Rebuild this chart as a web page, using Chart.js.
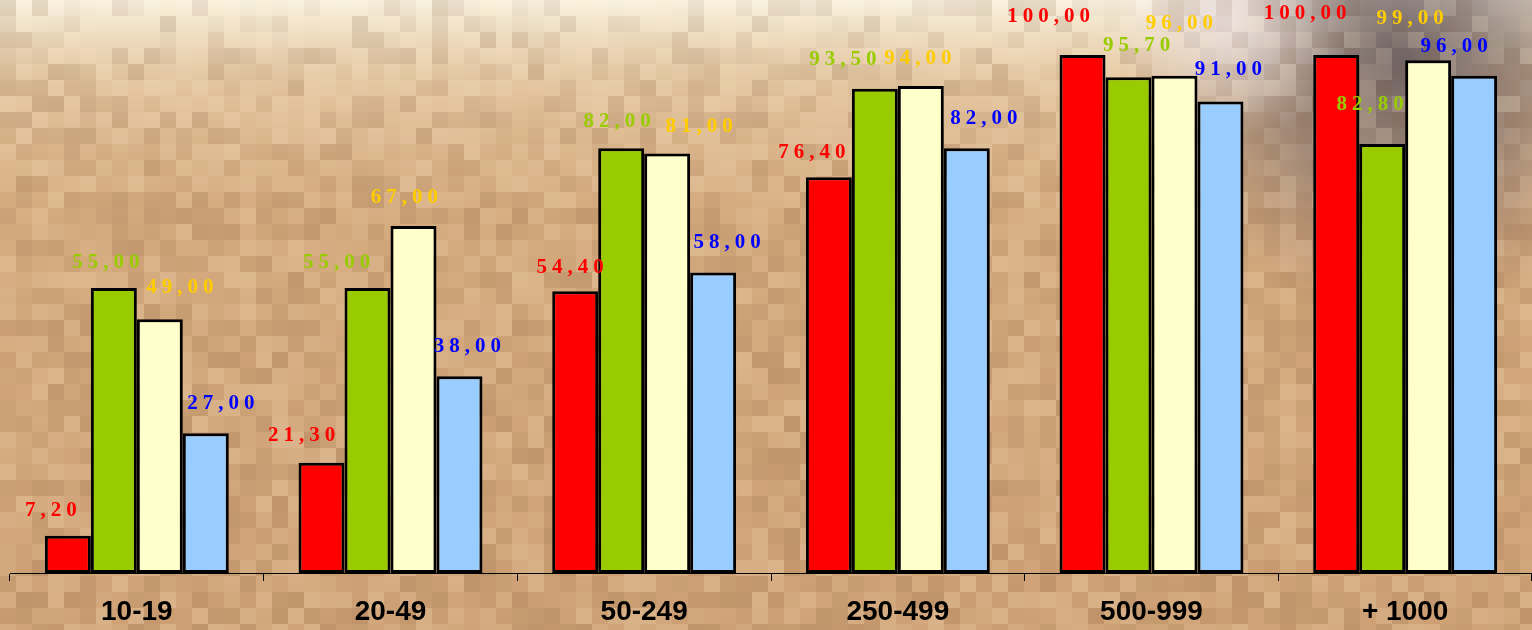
<!DOCTYPE html>
<html>
<head>
<meta charset="utf-8">
<script src="https://cdn.jsdelivr.net/npm/chart.js@4/dist/chart.umd.min.js"></script>
<style>
  html, body { margin: 0; padding: 0; background: #d2a57a; }
  #wrap { width: 1532px; height: 630px; position: relative; }
</style>
</head>
<body>
<div id="wrap"><canvas id="c" width="1532" height="630"></canvas></div>
<script>
// Enterprise size classes and the four series
const categories = ['10-19', '20-49', '50-249', '250-499', '500-999', '+ 1000'];
const seriesRed    = [7.2, 21.3, 54.4, 76.4, 100, 100];
const seriesGreen  = [55, 55, 82, 93.5, 95.7, 82.8];
const seriesYellow = [49, 67, 81, 94, 96, 99];
const seriesBlue   = [27, 38, 58, 82, 91, 96];

// Hand placement of each value label relative to the top centre of its bar [dx, dy]
const labelNudge = [
  [[-17, -25], [-20, -27], [-5, -24], [-17, -25], [-34, -38], [-31, -41]],
  [[-8, -26], [-31, -26], [-4, -27], [-32, -29], [8, -32], [-12, -40]],
  [[20, -32], [-9, -28], [32, -27], [-3, -28], [5, -52], [-18, -42]],
  [[15, -30], [8, -30], [14, -30], [17, -30], [8, -32], [-20, -29]]
];
const labelColors = ['#ff0000', '#99cc00', '#ffcc00', '#0000ff'];

// Sandy mosaic backdrop: smooth colour field sampled in square tiles
function tileShade(cx, cy) {
  const h = Math.sin(cx * 12.9898 + cy * 78.233) * 43758.5453;
  return (h - Math.floor(h)) - 0.5;
}
const backdrop = {
  id: 'backdrop',
  beforeDraw(chart) {
    const { ctx, width, height } = chart;
    ctx.save();
    ctx.fillStyle = '#d1a578';
    ctx.fillRect(0, 0, width, height);
    let g = ctx.createLinearGradient(0, 0, 0, height);
    g.addColorStop(0, 'rgba(252,248,232,0.95)');
    g.addColorStop(0.12, 'rgba(240,222,190,0.6)');
    g.addColorStop(0.35, 'rgba(225,190,150,0.15)');
    g.addColorStop(1, 'rgba(200,150,110,0.2)');
    ctx.fillStyle = g;
    ctx.fillRect(0, 0, width, height);
    let r = ctx.createRadialGradient(1400, 60, 10, 1400, 60, 260);
    r.addColorStop(0, 'rgba(95,85,90,0.85)');
    r.addColorStop(0.5, 'rgba(120,105,105,0.55)');
    r.addColorStop(1, 'rgba(150,120,110,0)');
    ctx.fillStyle = r;
    ctx.fillRect(0, 0, width, height);
    let w = ctx.createRadialGradient(1230, 20, 5, 1230, 20, 120);
    w.addColorStop(0, 'rgba(245,235,235,0.8)');
    w.addColorStop(1, 'rgba(245,235,235,0)');
    ctx.fillStyle = w;
    ctx.fillRect(0, 0, width, height);
    // tile texture
    const s = 16;
    for (let ty = 0; ty * s < height; ty++) {
      for (let tx = 0; tx * s < width; tx++) {
        const d = tileShade(tx, ty);
        ctx.fillStyle = d > 0 ? 'rgba(255,235,205,' + (d * 0.45).toFixed(3) + ')'
                              : 'rgba(120,80,50,' + (-d * 0.35).toFixed(3) + ')';
        ctx.fillRect(tx * s, ty * s, s, s);
      }
    }
    ctx.restore();
  }
};

const valueLabels = {
  id: 'valueLabels',
  afterDatasetsDraw(chart) {
    const ctx = chart.ctx;
    ctx.save();
    ctx.font = 'bold 21px "Liberation Serif", "DejaVu Serif", serif';
    ctx.letterSpacing = '5px';
    ctx.textAlign = 'center';
    ctx.textBaseline = 'middle';
    chart.data.datasets.forEach((ds, di) => {
      const meta = chart.getDatasetMeta(di);
      meta.data.forEach((bar, i) => {
        const v = ds.data[i];
        const txt = v.toFixed(2).replace('.', ',');
        const [dx, dy] = labelNudge[di][i];
        ctx.fillStyle = labelColors[di];
        ctx.fillText(txt, bar.x + dx + 2.5, bar.y + dy);
      });
    });
    ctx.restore();
  }
};

new Chart(document.getElementById('c'), {
  type: 'bar',
  data: {
    labels: categories,
    datasets: [
      { data: seriesRed, backgroundColor: '#ff0000' },
      { data: seriesGreen, backgroundColor: '#99cc00' },
      { data: seriesYellow, backgroundColor: '#ffffcc' },
      { data: seriesBlue, backgroundColor: '#99ccff' }
    ].map(d => Object.assign(d, {
      borderColor: '#000000',
      borderWidth: 3,
      borderSkipped: false,
      barPercentage: 1,
      categoryPercentage: 0.725
    }))
  },
  options: {
    responsive: false,
    animation: false,
    layout: { padding: { top: 55, left: 10, right: 0, bottom: 0 } },
    plugins: { legend: { display: false }, tooltip: { enabled: false } },
    scales: {
      x: {
        border: { display: true, color: '#000000', width: 1 },
        grid: { display: true, offset: true, drawOnChartArea: false, tickLength: 8, color: '#000000', lineWidth: 1 },
        ticks: {
          color: '#000000',
          padding: 14,
          font: { family: '"Liberation Sans", Arial, sans-serif', size: 28, weight: 'bold' },
          maxRotation: 0
        },
        afterFit(scale) { scale.height = 57; }
      },
      y: {
        display: false,
        min: 0,
        max: 100
      }
    }
  },
  plugins: [backdrop, valueLabels]
});
</script>
</body>
</html>
